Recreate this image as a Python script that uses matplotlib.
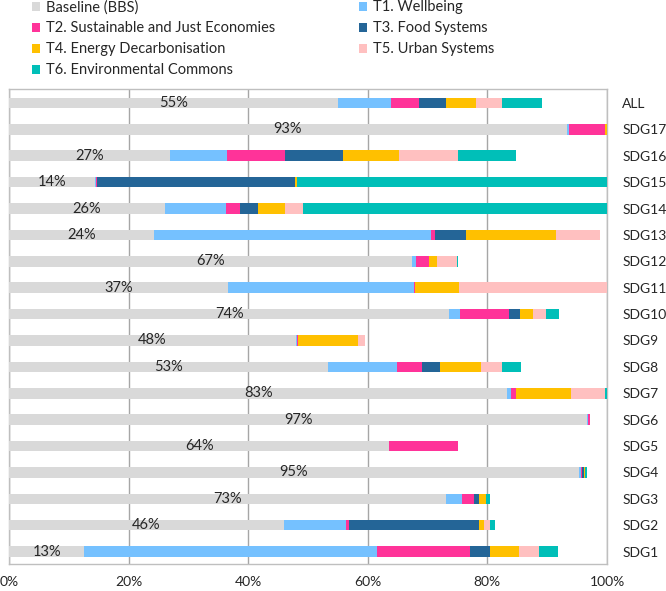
import matplotlib.pyplot as plt
import numpy as np

plt.rcParams['font.family'] = ['Lato', 'DejaVu Sans']

# --- Data (share of targets, %) ---
categories = ['ALL', 'SDG17', 'SDG16', 'SDG15', 'SDG14', 'SDG13', 'SDG12', 'SDG11', 'SDG10',
              'SDG9', 'SDG8', 'SDG7', 'SDG6', 'SDG5', 'SDG4', 'SDG3', 'SDG2', 'SDG1']
series_names = ['Baseline (BBS)', 'T1. Wellbeing', 'T2. Sustainable and Just Economies',
                'T3. Food Systems', 'T4. Energy Decarbonisation', 'T5. Urban Systems',
                'T6. Environmental Commons']

baseline = [55.0, 93.3, 26.9, 14.4, 26.1, 24.2, 67.4, 36.7, 73.6, 48.0, 53.4, 83.3, 96.7, 63.6, 95.3, 73.0, 46.0, 12.6]
t1_wellbeing = [8.9, 0.3, 9.6, 0.1, 10.2, 46.4, 0.7, 31.1, 1.9, 0.1, 11.4, 0.7, 0.1, 0.0, 0.3, 2.8, 10.4, 48.9]
t2_economies = [4.6, 6.1, 9.7, 0.2, 2.3, 0.6, 2.2, 0.1, 8.1, 0.3, 4.2, 0.7, 0.4, 11.5, 0.3, 2.0, 0.5, 15.6]
t3_food = [4.5, 0.0, 9.6, 33.2, 3.0, 5.3, 0.0, 0.0, 1.9, 0.0, 3.0, 0.1, 0.0, 0.0, 0.2, 0.8, 21.7, 3.3]
t4_energy = [5.1, 0.3, 9.5, 0.3, 4.6, 14.9, 1.3, 7.4, 2.2, 10.0, 7.0, 9.2, 0.0, 0.0, 0.2, 1.1, 0.8, 4.9]
t5_urban = [4.3, 0.0, 9.7, 0.0, 3.0, 7.5, 3.3, 24.7, 2.1, 1.1, 3.5, 5.7, 0.0, 0.0, 0.1, 0.0, 1.0, 3.3]
t6_commons = [6.8, 0.0, 9.7, 51.8, 50.8, 0.0, 0.2, 0.0, 2.1, 0.0, 3.1, 0.3, 0.0, 0.0, 0.2, 0.8, 0.9, 3.2]

colors = ['#D9D9D9', '#75C1FF', '#FF3399', '#246597', '#FFC000', '#FFC0C0', '#00BFB8']

series = [baseline, t1_wellbeing, t2_economies, t3_food, t4_energy, t5_urban, t6_commons]

fig = plt.figure(figsize=(6.66, 5.91), dpi=100)
ax = fig.add_axes([9 / 666, 1 - 564 / 591, 598 / 666, 475 / 591])

y = np.arange(len(categories))[::-1]
left = np.zeros(len(categories))
handles = []
for name, vals, col in zip(series_names, series, colors):
    vals = np.array(vals)
    h = ax.barh(y, vals, left=left, height=0.40, color=col, label=name, zorder=3)
    handles.append(h)
    left += vals

# percentage labels centred in the baseline segment
for yi, b in zip(y, baseline):
    ax.text(b / 2, yi, f'{round(b):.0f}%', ha='center', va='center', fontsize=10.5,
            color='#262626', zorder=4)

ax.set_xlim(0, 100)
ax.set_ylim(-0.47, len(categories) - 0.47)
ax.set_xticks([0, 20, 40, 60, 80, 100])
ax.set_xticklabels(['0%', '20%', '40%', '60%', '80%', '100%'])
ax.set_yticks(y)
ax.set_yticklabels(categories)
ax.yaxis.tick_right()
ax.tick_params(axis='y', length=0, pad=11, labelsize=10, labelcolor='#262626')
ax.tick_params(axis='x', length=0, pad=9, labelsize=10, labelcolor='#262626')
ax.grid(axis='x', color='#A6A6A6', linewidth=1, zorder=0)
for s in ax.spines.values():
    s.set_color('#BFBFBF')
    s.set_linewidth(1)

# legend laid out row-wise like the original (column-major ordering)
order = [0, 2, 4, 6, 1, 3, 5]
fig.legend([handles[i] for i in order], [series_names[i] for i in order],
           loc='upper left', bbox_to_anchor=(0.028, 1.022), ncol=2, frameon=False,
           fontsize=10.5, handlelength=0.55, handleheight=0.55, handletextpad=0.4,
           columnspacing=5.75, labelspacing=0.48, labelcolor='#262626')

fig.savefig('out.png', dpi=100)
